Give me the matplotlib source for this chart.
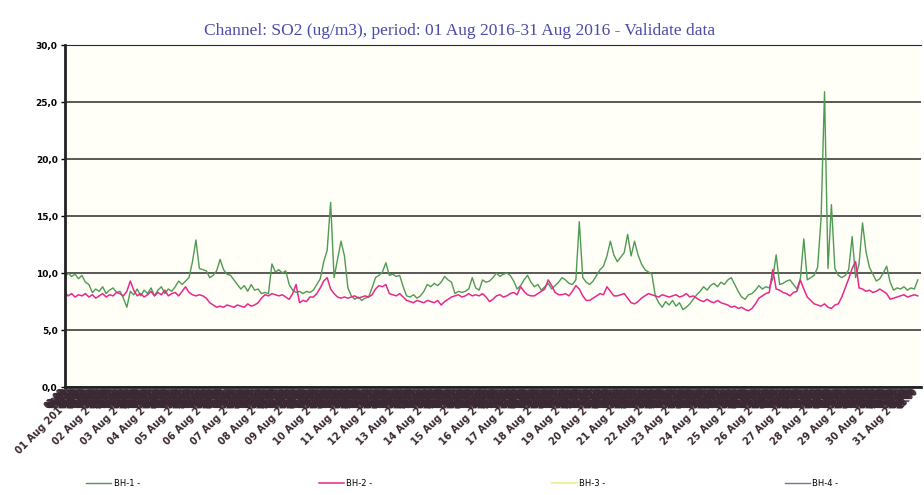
import numpy as np
import matplotlib.pyplot as plt
from matplotlib.ticker import FixedLocator, FuncFormatter

# 3-hourly SO2 values (ug/m3), one row per day, 01..31 Aug 2016
bh1 = [
    9.6, 10.0, 9.7, 9.9, 9.5, 9.8, 9.2, 9.0,
    8.3, 8.6, 8.4, 8.8, 8.2, 8.5, 8.7, 8.3,
    8.4, 7.8, 7.0, 8.4, 8.1, 8.6, 8.0, 8.5,
    8.2, 8.7, 8.0, 8.5, 8.8, 8.2, 8.6, 8.4,
    8.8, 9.3, 9.0, 9.3, 9.6, 11.0, 12.9, 10.4,
    10.3, 10.2, 9.6, 9.8, 10.2, 11.2, 10.3, 9.9,
    9.8, 9.4, 9.0, 8.6, 8.9, 8.4, 9.0, 8.5,
    8.6, 8.2, 8.3, 8.2, 10.8, 10.1, 10.3, 10.0,
    10.2, 9.0, 8.5, 8.3, 8.4, 8.2, 8.4, 8.3,
    8.5, 9.0, 9.5, 11.0, 12.0, 16.2, 9.6, 11.2,
    12.8, 11.5, 8.7, 8.0, 7.7, 7.9, 7.6, 7.8,
    7.9, 8.7, 9.6, 9.8, 10.1, 10.9, 9.8, 9.9,
    9.7, 9.8, 8.8, 8.0, 7.9, 8.1, 7.8, 8.0,
    8.4, 9.0, 8.8, 9.1, 8.9, 9.2, 9.7, 9.4,
    9.2, 8.2, 8.4, 8.3, 8.4, 8.6, 9.6, 8.7,
    8.5, 9.4, 9.2, 9.3, 9.6, 10.0, 9.7, 9.9,
    10.0, 9.8, 9.3, 8.6, 8.9, 9.4, 9.8, 9.2,
    8.8, 9.0, 8.5, 8.8, 9.1, 8.6, 8.9, 9.2,
    9.6, 9.4, 9.1, 9.0, 9.4, 14.5, 9.6, 9.2,
    9.0, 9.3, 9.8, 10.3, 10.6, 11.5, 12.8, 11.6,
    11.0, 11.4, 11.8, 13.4, 11.5, 12.8, 11.6, 10.8,
    10.3, 10.1, 9.9, 8.0, 7.4, 7.0, 7.5, 7.2,
    7.6, 7.1, 7.4, 6.8, 7.0, 7.3, 7.7, 8.1,
    8.4, 8.8, 8.5, 8.9, 9.1, 8.8, 9.2, 9.0,
    9.4, 9.6, 9.0, 8.4, 7.9, 7.7, 8.1, 8.2,
    8.5, 8.9, 8.6, 8.8, 8.7, 9.5, 11.6, 9.0,
    9.1, 9.3, 9.4, 9.0, 8.6, 9.5, 13.0, 9.4,
    9.6, 9.8, 10.5, 14.8, 25.9, 10.4, 16.0, 10.4,
    9.8, 9.6, 9.8, 10.3, 13.2, 9.6, 10.8, 14.4,
    11.9, 10.5, 9.9, 9.3, 9.5, 10.0, 10.6, 9.2,
    8.5, 8.7, 8.6, 8.8, 8.5, 8.7, 8.6, 9.4,
]
bh2 = [
    8.3, 8.0, 8.2, 7.9, 8.1, 8.0, 8.2, 7.9,
    8.1, 7.8, 8.0, 8.2, 7.9, 8.1, 8.0, 8.3,
    8.2, 8.0, 8.4, 9.3, 8.5, 8.0, 8.2, 7.9,
    8.1, 8.4, 8.0, 8.3, 8.1, 8.5, 8.0, 8.2,
    8.3, 8.0, 8.4, 8.8, 8.3, 8.1, 8.0, 8.1,
    8.0, 7.8, 7.4, 7.2, 7.0, 7.1, 7.0, 7.2,
    7.1, 7.0, 7.2, 7.1, 7.0, 7.3, 7.1, 7.2,
    7.4, 7.8, 8.1, 8.0, 8.2, 8.1, 8.0, 8.1,
    7.9, 7.7, 8.2, 9.0, 7.4, 7.6, 7.5, 7.9,
    7.9, 8.2, 8.7, 9.3, 9.6, 8.6, 8.2, 7.9,
    7.8, 7.9, 7.8, 7.9, 8.0, 7.8, 7.9, 8.0,
    7.9, 8.1, 8.6, 8.9, 8.8, 9.0, 8.2, 8.1,
    8.0, 8.2, 7.9, 7.6, 7.5, 7.4, 7.6, 7.5,
    7.4, 7.6, 7.5, 7.4, 7.6, 7.2, 7.5, 7.7,
    7.9, 8.0, 8.1, 7.9, 8.0, 8.2, 8.0, 8.1,
    8.0, 8.2, 7.9, 7.5, 7.7, 8.0, 8.1, 7.9,
    8.0, 8.2, 8.3, 8.1, 8.8, 8.4, 8.1, 8.0,
    8.0, 8.2, 8.4, 8.6, 9.4, 8.9, 8.3, 8.1,
    8.1, 8.2, 8.0, 8.4, 8.9, 8.6, 8.0, 7.6,
    7.6, 7.8, 8.0, 8.2, 8.1, 8.8, 8.4, 8.0,
    8.0, 8.1, 8.2, 7.8, 7.4, 7.3, 7.5, 7.8,
    8.0, 8.2, 8.1, 8.0, 7.9, 8.1, 8.0, 7.9,
    8.0, 8.1, 7.9, 8.0, 8.2, 7.9, 8.0, 7.8,
    7.6, 7.5, 7.7, 7.5, 7.4, 7.6, 7.4, 7.3,
    7.2, 7.0, 7.1, 6.9, 7.0, 6.8, 6.7, 6.9,
    7.3, 7.8, 8.0, 8.2, 8.3, 10.3, 8.6, 8.5,
    8.3, 8.2, 8.0, 8.3, 8.4, 9.4, 8.6, 7.9,
    7.6, 7.3, 7.2, 7.1, 7.3, 7.0, 6.9, 7.2,
    7.3, 7.9, 8.7, 9.5, 10.4, 11.0, 8.7, 8.6,
    8.4, 8.5, 8.3, 8.4, 8.6, 8.4, 8.2, 7.7,
    7.8, 7.9, 8.0, 8.1, 7.9, 8.0, 8.1, 8.0,
]
days = ["01 Aug 201"] + ["%02d Aug 2" % d for d in range(2, 32)]
y_ticks = [0, 5, 10, 15, 20, 25, 30]
series = ["BH-1 -", "BH-2 -", "BH-3 -", "BH-4 -"]
colors = ["#4f9a52", "#e8288c", "#f4f0a0", "#6b7a90"]

hours = np.arange(len(bh1)) * 3

fig = plt.figure(figsize=(9.24, 4.95), dpi=100)
ax = fig.add_axes([0.070, 0.218, 0.927, 0.691])
ax.set_facecolor("#fffff8")

l1, = ax.plot(hours, bh1, color=colors[0], lw=1.0)
l2, = ax.plot(hours, bh2, color=colors[1], lw=1.1)
l3, = ax.plot([], [], color=colors[2], lw=1.5)
l4, = ax.plot([], [], color=colors[3], lw=1.0)

ax.set_xlim(0, 744)
ax.set_ylim(0, 30)
ax.set_yticks(y_ticks)
ax.yaxis.set_major_formatter(FuncFormatter(lambda v, p: ("%.1f" % v).replace(".", ",")))
ax.tick_params(axis="y", labelsize=6.5, length=3, width=1, pad=2)
for lab in ax.get_yticklabels():
    lab.set_fontweight("bold")
ax.grid(axis="y", color="#2b2b2b", lw=1.1)

# daily labels + hourly labels (these pile up into the dark band under the axis)
ax.xaxis.set_major_locator(FixedLocator(np.arange(31) * 24))
ax.set_xticklabels(days)
ax.xaxis.set_minor_locator(FixedLocator(np.arange(744)))
ax.xaxis.set_minor_formatter(FuncFormatter(lambda v, p: "%02d:00" % (int(v) % 24)))
ax.tick_params(axis="x", which="major", labelsize=7, length=0, pad=13,
               labelrotation=45, labelcolor="#3a2832")
ax.tick_params(axis="x", which="minor", labelsize=5.5, length=0, pad=0,
               labelrotation=45, labelcolor="#3a2832")
for lab in ax.get_xticklabels():
    lab.set_ha("right")
    lab.set_fontweight("bold")
for lab in ax.get_xticklabels(minor=True):
    lab.set_ha("right")
    lab.set_fontweight("bold")

for s in ["left", "bottom"]:
    ax.spines[s].set_linewidth(2)
    ax.spines[s].set_color("#222222")
ax.spines["top"].set_color("#2b2b2b")
ax.spines["right"].set_visible(False)

fig.text(0.497, 0.938, "Channel: SO2 (ug/m3), period: 01 Aug 2016-31 Aug 2016 - Validate data",
         ha="center", va="center", fontsize=12.5, color="#4a4aa8", family="Liberation Serif")

fig.legend([l1, l2, l3, l4], series, loc="lower left", bbox_to_anchor=(0.085, 0.0),
           ncol=4, frameon=False, fontsize=6, handlelength=3, handletextpad=0.3,
           columnspacing=21.5)

fig.savefig("out.png", dpi=100)
